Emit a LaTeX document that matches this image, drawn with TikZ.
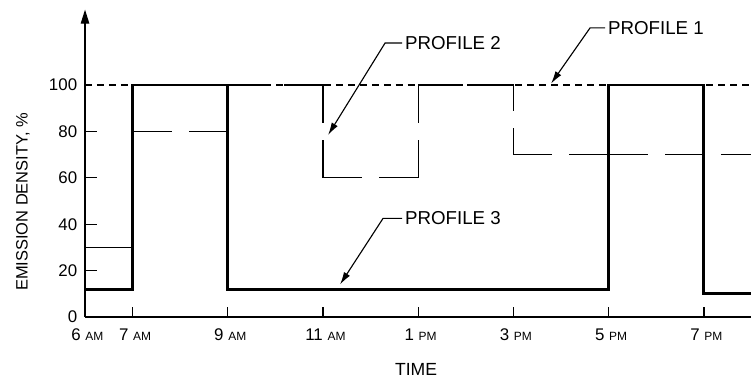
\documentclass[tikz,border=0pt]{standalone}
\usepackage{fontspec}
\setmainfont{Liberation Sans}
\usetikzlibrary{arrows.meta}

\tikzset{
  axis/.style={line width=0.9pt},
  prof1/.style={line width=0.9pt, dash pattern=on 5pt off 3.5pt},
  p2seg/.style={line width=0.9pt, line cap=rect, dash pattern=on #1 off 13pt on 80pt},
  prof3/.style={line width=2.1pt, line join=miter},
  lead/.style={line width=0.8pt, -{Latex[length=9pt,width=5pt]}},
  ticklbl/.style={font=\fontsize{12}{14}\selectfont, inner sep=1pt},
  proflbl/.style={font=\fontsize{13.3}{15}\selectfont, anchor=west, inner xsep=2pt},
}
\newcommand{\ampm}[1]{{\fontsize{8.5}{10}\selectfont #1}}

\begin{document}
\begin{tikzpicture}[x=1.19cm, y=0.058cm]
\useasboundingbox (-1.786,-26.72) rectangle (13.99,136.64);

% axes
\coordinate (org) at (0,0);
\coordinate (ytop) at (0,132.5);
\coordinate (xend) at (13.99,0);
\draw[axis, -{Triangle[length=10pt,width=6pt]}] (org) -- (ytop);
\draw[axis] (org) -- (xend);

% y ticks and labels
\foreach \v in {20,40,60,80}
  \draw[axis] (0,\v) -- (0.252,\v);
\foreach \v in {0,20,...,100}
  \node[ticklbl, anchor=east] (y\v) at (-0.13,\v) {\v};

% x ticks and labels
\foreach \x/\h/\m in {1/7/AM,3/9/AM,5/11/AM,7/1/PM,9/3/PM,11/5/PM,13/7/PM}
  \draw[axis] (\x,0) -- (\x,4.3);
\foreach \x/\h/\m in {0/6/AM,1/7/AM,3/9/AM,5/11/AM,7/1/PM,9/3/PM,11/5/PM,13/7/PM}
  \node[ticklbl] (t\x) at (\x+0.05,-7.8) {\h\ \ampm{\m}};

\node[font=\fontsize{12.5}{14}\selectfont] (time) at (6.954,-22.4) {TIME};
\node[font=\fontsize{11.7}{14}\selectfont, rotate=90] (ylbl) at (-1.303,49.6) {EMISSION DENSITY, \%};

% profile 1
\draw[prof1] (0,100) -- (13.99,100);
\draw[line width=0.7pt] (0,30) -- (1,30);

% profile 2, one long dash - gap - long dash per step
\foreach \a/\b/\d in {{1,80}/{3,80}/27.2pt, {3,100}/{5,100}/27.2pt, {5,100}/{5,60}/26.4pt,
    {5,60}/{7,60}/27.2pt, {7,60}/{7,100}/26.4pt, {7,100}/{9,100}/27.2pt,
    {9,100}/{9,70}/18.2pt, {9,70}/{11,70}/27.2pt, {11,70}/{13,70}/27.2pt}
  \draw[p2seg=\d] (\a) -- (\b);
\draw[line width=0.9pt, dash pattern=on 0pt off 12pt on 80pt] (13,70) -- (13.99,70);

% profile 3
\draw[prof3] (0,12) -- (1,12) -- (1,100) -- (3,100) -- (3,12) -- (11,12) -- (11,100)
  -- (13,100) -- (13,10) -- (13.99,10);

% labels with leaders
\node[proflbl] (p1lbl) at (10.924,124.6) {PROFILE 1};
\node[proflbl] (p2lbl) at (6.66,118.1) {PROFILE 2};
\node[proflbl] (p3lbl) at (6.66,42.5) {PROFILE 3};
\coordinate (p1bend) at (10.609,124.6);
\coordinate (p1tip) at (9.79,100.6);
\coordinate (p2bend) at (6.303,118.1);
\coordinate (p2tip) at (5.105,78.4);
\coordinate (p3bend) at (6.26,42.5);
\coordinate (p3tip) at (5.357,14);
\draw[lead] (p1lbl.west) -- (p1bend) -- (p1tip);
\draw[lead] (p2lbl.west) -- (p2bend) -- (p2tip);
\draw[lead] (p3lbl.west) -- (p3bend) -- (p3tip);
\end{tikzpicture}
\end{document}
